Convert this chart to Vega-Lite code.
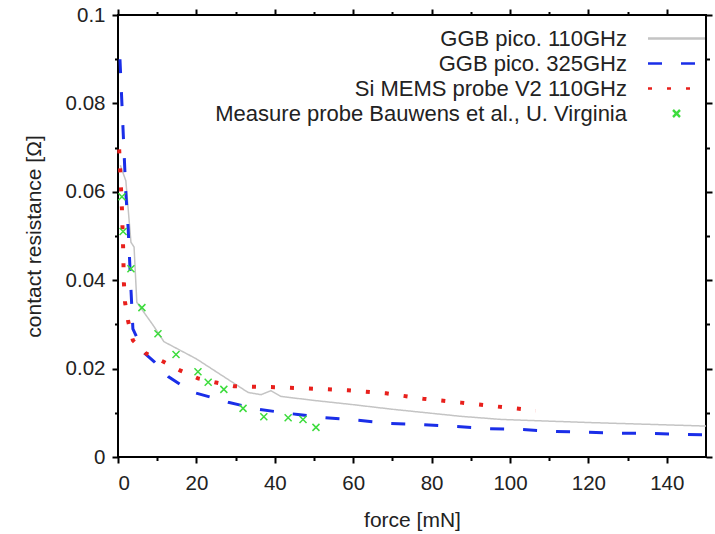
{
  "$schema": "https://vega.github.io/schema/vega-lite/v6.json",
  "width": 588,
  "height": 442,
  "autosize": "none",
  "padding": {"left": 118, "top": 15, "right": 9, "bottom": 77},
  "background": "white",
  "config": {
    "view": {"stroke": "black", "strokeWidth": 2},
    "font": "Liberation Sans",
    "axis": {
      "labelFont": "Liberation Sans", "labelFontSize": 20.5, "labelColor": "#222",
      "titleFont": "Liberation Sans", "titleFontSize": 21, "titleFontWeight": "normal", "titleColor": "#222",
      "grid": false, "domain": false
    },
    "legend": {
      "title": null, "orient": "none", "legendX": 547.5, "legendY": 12.5, "labelAlign": "right", "labelOffset": -60.5,
      "symbolSize": 100, "rowPadding": 3, "padding": 0, "labelFontSize": 22, "labelFont": "Liberation Sans",
      "labelColor": "#222", "labelLimit": 600, "symbolStrokeWidth": 2.5
    }
  },
  "resolve": {"axis": {"x": "independent", "y": "independent"}},
  "datasets": {"curves": [
    {"series": "GGB pico. 110GHz", "force": 0.6, "resistance": 0.066},
    {"series": "GGB pico. 110GHz", "force": 2.0, "resistance": 0.0625},
    {"series": "GGB pico. 110GHz", "force": 3.3, "resistance": 0.0486},
    {"series": "GGB pico. 110GHz", "force": 4.1, "resistance": 0.0475},
    {"series": "GGB pico. 110GHz", "force": 4.8, "resistance": 0.035},
    {"series": "GGB pico. 110GHz", "force": 9.2, "resistance": 0.0295},
    {"series": "GGB pico. 110GHz", "force": 11.7, "resistance": 0.0261},
    {"series": "GGB pico. 110GHz", "force": 20, "resistance": 0.0222},
    {"series": "GGB pico. 110GHz", "force": 33.2, "resistance": 0.0146},
    {"series": "GGB pico. 110GHz", "force": 36.5, "resistance": 0.0141},
    {"series": "GGB pico. 110GHz", "force": 39.0, "resistance": 0.015},
    {"series": "GGB pico. 110GHz", "force": 41.6, "resistance": 0.0137},
    {"series": "GGB pico. 110GHz", "force": 50, "resistance": 0.0128},
    {"series": "GGB pico. 110GHz", "force": 59.4, "resistance": 0.0119},
    {"series": "GGB pico. 110GHz", "force": 70, "resistance": 0.0108},
    {"series": "GGB pico. 110GHz", "force": 87.5, "resistance": 0.0092},
    {"series": "GGB pico. 110GHz", "force": 97.7, "resistance": 0.0085},
    {"series": "GGB pico. 110GHz", "force": 120, "resistance": 0.0078},
    {"series": "GGB pico. 110GHz", "force": 150, "resistance": 0.007},

    {"series": "GGB pico. 325GHz", "force": 0.5, "resistance": 0.09},
    {"series": "GGB pico. 325GHz", "force": 2.0, "resistance": 0.0598},
    {"series": "GGB pico. 325GHz", "force": 2.6, "resistance": 0.0516},
    {"series": "GGB pico. 325GHz", "force": 3.3, "resistance": 0.038},
    {"series": "GGB pico. 325GHz", "force": 3.8, "resistance": 0.029},
    {"series": "GGB pico. 325GHz", "force": 6.6, "resistance": 0.0236},
    {"series": "GGB pico. 325GHz", "force": 9.2, "resistance": 0.0216},
    {"series": "GGB pico. 325GHz", "force": 12.8, "resistance": 0.0182},
    {"series": "GGB pico. 325GHz", "force": 18.6, "resistance": 0.0148},
    {"series": "GGB pico. 325GHz", "force": 28.1, "resistance": 0.0124},
    {"series": "GGB pico. 325GHz", "force": 35.7, "resistance": 0.0108},
    {"series": "GGB pico. 325GHz", "force": 45.9, "resistance": 0.0096},
    {"series": "GGB pico. 325GHz", "force": 52.6, "resistance": 0.0089},
    {"series": "GGB pico. 325GHz", "force": 61.2, "resistance": 0.0083},
    {"series": "GGB pico. 325GHz", "force": 69.6, "resistance": 0.0076},
    {"series": "GGB pico. 325GHz", "force": 77.8, "resistance": 0.0073},
    {"series": "GGB pico. 325GHz", "force": 86.2, "resistance": 0.0069},
    {"series": "GGB pico. 325GHz", "force": 94.6, "resistance": 0.0064},
    {"series": "GGB pico. 325GHz", "force": 103.3, "resistance": 0.0062},
    {"series": "GGB pico. 325GHz", "force": 111.2, "resistance": 0.0058},
    {"series": "GGB pico. 325GHz", "force": 119.6, "resistance": 0.0056},
    {"series": "GGB pico. 325GHz", "force": 128.3, "resistance": 0.0054},
    {"series": "GGB pico. 325GHz", "force": 136.7, "resistance": 0.0053},
    {"series": "GGB pico. 325GHz", "force": 145.4, "resistance": 0.0051},
    {"series": "GGB pico. 325GHz", "force": 150, "resistance": 0.005},

    {"series": "Si MEMS probe V2 110GHz", "force": 0.3, "resistance": 0.0696},
    {"series": "Si MEMS probe V2 110GHz", "force": 1.0, "resistance": 0.0562},
    {"series": "Si MEMS probe V2 110GHz", "force": 1.3, "resistance": 0.0476},
    {"series": "Si MEMS probe V2 110GHz", "force": 1.5, "resistance": 0.0395},
    {"series": "Si MEMS probe V2 110GHz", "force": 1.8, "resistance": 0.035},
    {"series": "Si MEMS probe V2 110GHz", "force": 2.6, "resistance": 0.0307},
    {"series": "Si MEMS probe V2 110GHz", "force": 3.8, "resistance": 0.0264},
    {"series": "Si MEMS probe V2 110GHz", "force": 7, "resistance": 0.0235},
    {"series": "Si MEMS probe V2 110GHz", "force": 11.5, "resistance": 0.0216},
    {"series": "Si MEMS probe V2 110GHz", "force": 15.8, "resistance": 0.0196},
    {"series": "Si MEMS probe V2 110GHz", "force": 20.4, "resistance": 0.0178},
    {"series": "Si MEMS probe V2 110GHz", "force": 24.7, "resistance": 0.0169},
    {"series": "Si MEMS probe V2 110GHz", "force": 29.6, "resistance": 0.016},
    {"series": "Si MEMS probe V2 110GHz", "force": 40, "resistance": 0.0158},
    {"series": "Si MEMS probe V2 110GHz", "force": 48.7, "resistance": 0.0155},
    {"series": "Si MEMS probe V2 110GHz", "force": 58.7, "resistance": 0.0151},
    {"series": "Si MEMS probe V2 110GHz", "force": 68.4, "resistance": 0.0144},
    {"series": "Si MEMS probe V2 110GHz", "force": 77.8, "resistance": 0.0132},
    {"series": "Si MEMS probe V2 110GHz", "force": 87.5, "resistance": 0.0123},
    {"series": "Si MEMS probe V2 110GHz", "force": 96.9, "resistance": 0.0114},
    {"series": "Si MEMS probe V2 110GHz", "force": 106.6, "resistance": 0.0105},

    {"series": "Measure probe Bauwens et al., U. Virginia", "force": 1.0, "resistance": 0.0589},
    {"series": "Measure probe Bauwens et al., U. Virginia", "force": 1.3, "resistance": 0.051},
    {"series": "Measure probe Bauwens et al., U. Virginia", "force": 3.3, "resistance": 0.0426},
    {"series": "Measure probe Bauwens et al., U. Virginia", "force": 6.1, "resistance": 0.0338},
    {"series": "Measure probe Bauwens et al., U. Virginia", "force": 10.2, "resistance": 0.0279},
    {"series": "Measure probe Bauwens et al., U. Virginia", "force": 14.8, "resistance": 0.0232},
    {"series": "Measure probe Bauwens et al., U. Virginia", "force": 20.4, "resistance": 0.0193},
    {"series": "Measure probe Bauwens et al., U. Virginia", "force": 23.0, "resistance": 0.0169},
    {"series": "Measure probe Bauwens et al., U. Virginia", "force": 27.0, "resistance": 0.0153},
    {"series": "Measure probe Bauwens et al., U. Virginia", "force": 31.9, "resistance": 0.011},
    {"series": "Measure probe Bauwens et al., U. Virginia", "force": 37.2, "resistance": 0.0091},
    {"series": "Measure probe Bauwens et al., U. Virginia", "force": 43.4, "resistance": 0.0089},
    {"series": "Measure probe Bauwens et al., U. Virginia", "force": 47.2, "resistance": 0.0085},
    {"series": "Measure probe Bauwens et al., U. Virginia", "force": 50.5, "resistance": 0.0067}
  ]},
  "data": {"name": "curves"},
  "encoding": {
    "color": {"field": "series", "type": "nominal",
      "scale": {"domain": ["GGB pico. 110GHz", "GGB pico. 325GHz", "Si MEMS probe V2 110GHz", "Measure probe Bauwens et al., U. Virginia"],
        "range": ["#c4c4c4", "#1a2ee8", "#e8201c", "#3ddc3d"]}}
  },
  "layer": [
    {
      "transform": [{"filter": "datum.series === 'GGB pico. 110GHz'"}],
      "mark": {"type": "line", "strokeWidth": 1.5},
      "encoding": {
        "x": {"field": "force", "type": "quantitative", "scale": {"domain": [0, 150], "nice": false, "zero": false},
          "axis": {"orient": "bottom", "title": "force [mN]", "values": [0,20,40,60,80,100,120,140],
            "ticks": true, "tickColor": "black", "tickWidth": 2, "tickSize": 6, "offset": 0, "labelPadding": 10, "titlePadding": 16}},
        "y": {"field": "resistance", "type": "quantitative", "scale": {"domain": [0, 0.1], "nice": false},
          "axis": {"orient": "left", "title": "contact resistance [Ω]", "format": "~g",
            "values": [0,0.02,0.04,0.06,0.08,0.1],
            "ticks": true, "tickColor": "black", "tickWidth": 2, "tickSize": 6, "offset": 0, "labelPadding": 7, "titlePadding": 21}},
        "strokeDash": {"field": "series", "type": "nominal",
          "scale": {"domain": ["GGB pico. 110GHz", "GGB pico. 325GHz", "Si MEMS probe V2 110GHz", "Measure probe Bauwens et al., U. Virginia"],
            "range": [[1, 0], [14, 19], [4, 15], [1, 0]]}}
      }
    },
    {
      "transform": [{"filter": "datum.series === 'GGB pico. 325GHz'"}],
      "mark": {"type": "line", "strokeWidth": 3},
      "encoding": {
        "x": {"field": "force", "type": "quantitative",
          "axis": {"orient": "bottom", "title": null, "labels": false, "values": [10,30,50,70,90,110,130], "ticks": true, "tickColor": "black", "tickWidth": 2, "tickSize": 3.5, "offset": 0}},
        "y": {"field": "resistance", "type": "quantitative",
          "axis": {"orient": "left", "title": null, "labels": false, "values": [0.01,0.03,0.05,0.07,0.09], "ticks": true, "tickColor": "black", "tickWidth": 2, "tickSize": 3.5, "offset": 0}},
        "strokeDash": {"field": "series", "type": "nominal"}
      }
    },
    {
      "transform": [{"filter": "datum.series === 'Si MEMS probe V2 110GHz'"}],
      "mark": {"type": "line", "strokeWidth": 4},
      "encoding": {
        "x": {"field": "force", "type": "quantitative",
          "axis": {"orient": "top", "title": null, "labels": false, "values": [0,20,40,60,80,100,120,140], "ticks": true, "tickColor": "black", "tickWidth": 2, "tickSize": 6, "offset": 0}},
        "y": {"field": "resistance", "type": "quantitative",
          "axis": {"orient": "right", "title": null, "labels": false, "values": [0,0.02,0.04,0.06,0.08,0.1], "ticks": true, "tickColor": "black", "tickWidth": 2, "tickSize": 6, "offset": 0}},
        "strokeDash": {"field": "series", "type": "nominal"}
      }
    },
    {
      "transform": [{"filter": "datum.series === 'Measure probe Bauwens et al., U. Virginia'"}],
      "mark": {"type": "point", "filled": false, "size": 100, "strokeWidth": 1.5, "opacity": 1},
      "encoding": {
        "x": {"field": "force", "type": "quantitative",
          "axis": {"orient": "top", "title": null, "labels": false, "values": [10,30,50,70,90,110,130], "ticks": true, "tickColor": "black", "tickWidth": 2, "tickSize": 3.5, "offset": 0}},
        "y": {"field": "resistance", "type": "quantitative",
          "axis": {"orient": "right", "title": null, "labels": false, "values": [0.01,0.03,0.05,0.07,0.09], "ticks": true, "tickColor": "black", "tickWidth": 2, "tickSize": 3.5, "offset": 0}},
        "shape": {"field": "series", "type": "nominal",
          "scale": {"domain": ["GGB pico. 110GHz", "GGB pico. 325GHz", "Si MEMS probe V2 110GHz", "Measure probe Bauwens et al., U. Virginia"],
            "range": ["M-5.7,0L5.7,0", "M-5.7,0L5.7,0", "M-5.7,0L5.7,0", "M-0.7,-0.7L0.7,0.7M-0.7,0.7L0.7,-0.7"]}}
      }
    }
  ]
}
